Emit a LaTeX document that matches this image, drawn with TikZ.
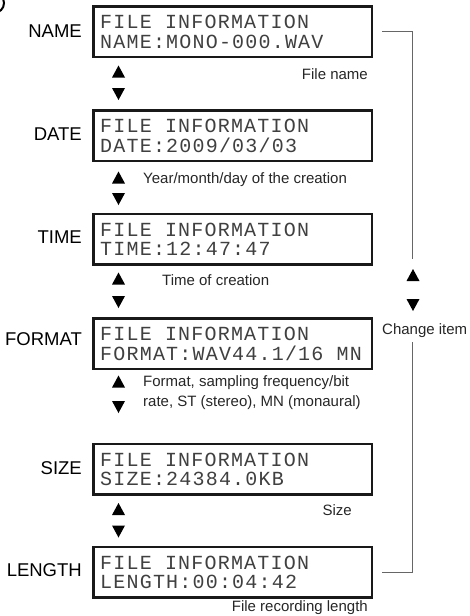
\documentclass[tikz,border=0pt]{standalone}
\usepackage{fontspec}
\setmainfont{Liberation Sans}
\newfontfamily\lcdfont[LetterSpace=6]{Liberation Mono}
\usetikzlibrary{positioning}

\tikzset{
  screen/.style={draw=black!90, line width=2.5pt, minimum width=278.5pt, minimum height=50.5pt, inner sep=0pt},
  lcdline/.style={anchor=west, inner sep=0pt, text height=13.2pt, text depth=0pt, text=black!75, font=\lcdfont\fontsize{20}{20}\selectfont},
  item/.style={anchor=east, inner sep=0pt, text height=13pt, text depth=0pt, font=\fontsize{18.5}{18.5}\selectfont},
  note/.style={inner sep=0pt, text height=10.8pt, text depth=0pt, text=black!85, font=\fontsize{15}{20}\selectfont},
  bracket/.style={draw=black!60, line width=0.9pt},
  pics/updown/.style={code={
    \fill (-6.5,6) -- (6.5,6) -- (0,-6) -- cycle;
    \fill (-6.5,#1-6) -- (6.5,#1-6) -- (0,#1+6) -- cycle;
  }}
}

\begin{document}
\begin{tikzpicture}[x=1pt, y=-1pt]
    \useasboundingbox (0,0) rectangle (470,616);
    \draw[line width=2pt] (-6,3) circle (10);

    % Screens
    \node[screen] (name) at (232.5,31.5) {};
    \node[lcdline] (name1) at (100,22) {FILE INFORMATION};
    \node[lcdline] (name2) at (100,41.5) {NAME:MONO-000.WAV};
    \node[item] (namelbl) at (82,30.5) {NAME};

    \node[screen] (date) at (232.5,135.5) {};
    \node[lcdline] (date1) at (100,126) {FILE INFORMATION};
    \node[lcdline] (date2) at (100,145.5) {DATE:2009/03/03};
    \node[item] (datelbl) at (82,134) {DATE};

    \node[screen] (time) at (232.5,239) {};
    \node[lcdline] (time1) at (100,229.5) {FILE INFORMATION};
    \node[lcdline] (time2) at (100,249) {TIME:12:47:47};
    \node[item] (timelbl) at (82,237) {TIME};

    \node[screen] (format) at (232.5,343.5) {};
    \node[lcdline] (format1) at (100,334) {FILE INFORMATION};
    \node[lcdline] (format2) at (100,353.5) {FORMAT:WAV44.1/16 MN};
    \node[item] (formatlbl) at (82,339) {FORMAT};

    \node[screen] (size) at (232.5,469) {};
    \node[lcdline] (size1) at (100,459.5) {FILE INFORMATION};
    \node[lcdline] (size2) at (100,479) {SIZE:24384.0KB};
    \node[item] (sizelbl) at (82,468) {SIZE};

    \node[screen] (length) at (232.5,572) {};
    \node[lcdline] (length1) at (100,562.5) {FILE INFORMATION};
    \node[lcdline] (length2) at (100,582) {LENGTH:00:04:42};
    \node[item] (lengthlbl) at (82,570) {LENGTH};

    % Up/down keys
    \pic at (118.5,71.5) {updown=22.5};
    \pic at (118.5,177.5) {updown=21.5};
    \pic at (118.5,278.5) {updown=23.5};
    \pic at (118.5,381.5) {updown=25.5};
    \pic at (118.5,509) {updown=22.5};

    % Notes
    \node[note, anchor=east] (namenote) at (368,74) {File name};
    \node[note, anchor=west] (datenote) at (143,178) {Year/month/day of the creation};
    \node[note, anchor=west] (timenote) at (162,280) {Time of creation};
    \node[note, anchor=north west, align=left, text height=] (formatnote) at (143,375.5) {Format, sampling frequency/bit\\rate, ST (stereo), MN (monaural)};
    \node[note, anchor=east] (sizenote) at (352,510) {Size};
    \node[note, anchor=east] (lengthnote) at (368,606.5) {File recording length};

    % Change item
    \coordinate (chgtop) at (412,259);
    \coordinate (chgbot) at (412,342);
    \draw[bracket] ([xshift=9pt]name.east) -| (chgtop);
    \draw[bracket] ([xshift=9pt]length.east) -| (chgbot);
    \pic at (413,275) {updown=30};
    \node[note, anchor=west] (chg) at (382,329) {Change item};
\end{tikzpicture}
\end{document}
